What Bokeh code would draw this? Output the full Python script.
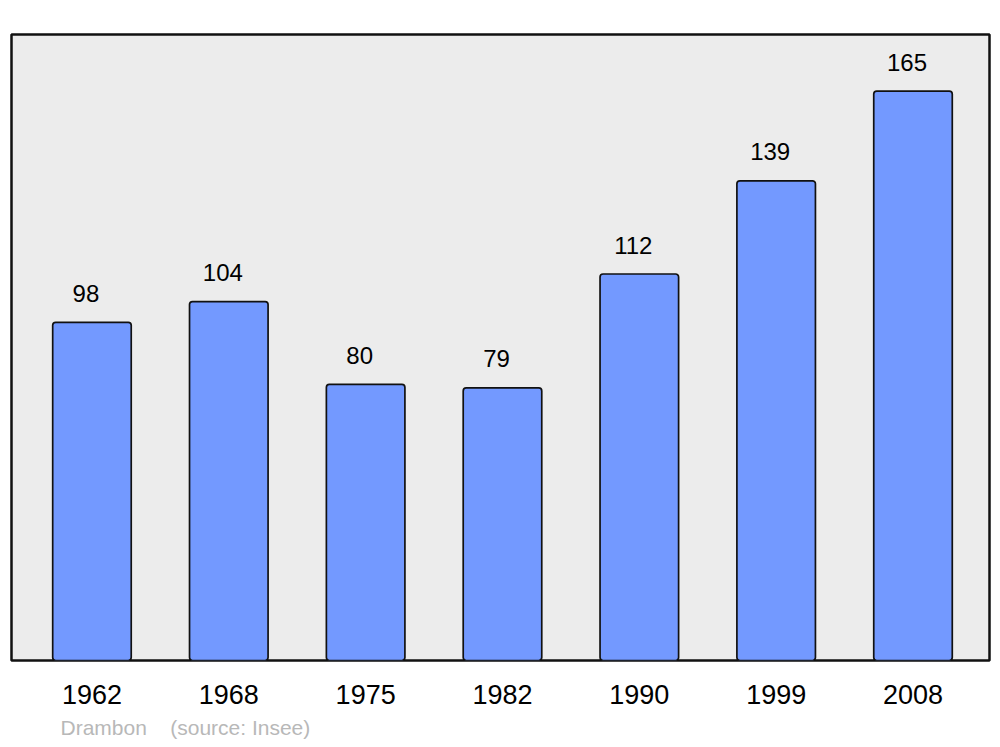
from bokeh.plotting import figure
from bokeh.models import ColumnDataSource, Range1d, FixedTicker, Title
from bokeh.core.properties import value
from bokeh.embed import file_html
from bokeh.resources import INLINE

years = ["1962", "1968", "1975", "1982", "1990", "1999", "2008"]
population = [98, 104, 80, 79, 112, 139, 165]
commune = "Drambon"
source_note = "(source: Insee)"

xs = list(range(len(years)))
src = ColumnDataSource(dict(x=xs, top=population,
                            label_y=[v + 8.4 for v in population],
                            txt=[str(v) for v in population]))

FONT = "Liberation Sans"

p = figure(width=1000, height=747, output_backend="svg", toolbar_location=None,
           x_range=Range1d(-0.588, 6.559), y_range=Range1d(0, 181.4),
           min_border_left=11, min_border_right=11, min_border_top=34, min_border_bottom=87)
p.background_fill_color = "#ececec"
p.border_fill_color = "white"
p.outline_line_color = "#111111"
p.outline_line_width = 2.5
p.xgrid.visible = False
p.ygrid.visible = False
p.yaxis.visible = False

p.vbar(x="x", top="top", bottom=0, width=0.574, source=src,
       fill_color="#7399ff", line_color="#111111", line_width=1.7, border_radius=3)

p.text(x="x", y="label_y", text="txt", source=src, x_offset=-6,
       text_align="center", text_baseline="alphabetic",
       text_font=value(FONT), text_font_size="24px", text_color="black")

ax = p.xaxis[0]
ax.ticker = FixedTicker(ticks=xs)
ax.major_label_overrides = {i: y for i, y in zip(xs, years)}
ax.axis_line_color = None
ax.major_tick_line_color = None
ax.minor_tick_line_color = None
ax.major_tick_out = 0
ax.major_tick_in = 0
ax.major_label_standoff = 24
ax.major_label_text_font = FONT
ax.major_label_text_font_size = "27px"
ax.major_label_text_color = "black"

footer = Title(text=commune + "\u00a0\u00a0\u00a0\u00a0" + source_note, align="left",
               offset=49, standoff=15, text_font=FONT, text_font_size="21px",
               text_font_style="normal", text_color="#b8b8b8")
p.add_layout(footer, "below")

open("out.html", "w").write(file_html(p, INLINE))
